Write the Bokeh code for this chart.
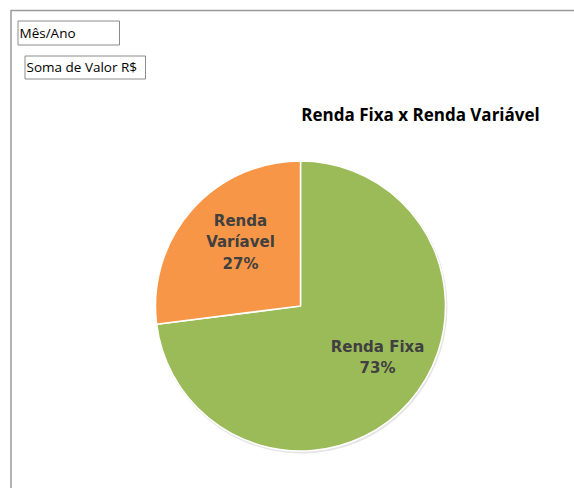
import numpy as np
from bokeh.plotting import figure
from bokeh.models import ColumnDataSource
from bokeh.core.properties import value
from bokeh.embed import file_html
from bokeh.resources import INLINE

# Data
categories = ["Renda Fixa", "Renda Variável"]
shares = [73, 27]
label_lines = [["Renda Fixa", "73%"], ["Renda", "Varíavel", "27%"]]
colors = ["#9BBB59", "#F79646"]
title_text = "Renda Fixa x Renda Variável"
filter_fields = ["Mês/Ano", "Soma de Valor R$"]

W, H = 574, 488
p = figure(width=W, height=H, x_range=(0, W), y_range=(0, H),
           output_backend="svg", toolbar_location=None,
           min_border=0, outline_line_color=None)
p.axis.visible = False
p.grid.visible = False
p.background_fill_color = "white"
p.border_fill_color = "white"

def Y(y):
    return H - y

# page frame (top and left lines)
p.segment(x0=[10, 10.5], y0=[Y(10), Y(10)], x1=[W + 5, 10.5], y1=[Y(10), -5],
          line_color="#9A9A9A", line_width=1.5)

# filter field buttons
boxes = [(17.5, 20.5, 119, 44.5), (24.5, 55.5, 145, 78.5)]
for (x0, y0, x1, y1), t in zip(boxes, filter_fields):
    p.quad(left=x0, right=x1, top=Y(y0), bottom=Y(y1),
           fill_color="white", line_color="#8C8C8C", line_width=1)
    p.text(x=[x0 + 1.5], y=[(Y(y0) + Y(y1)) / 2 + 0.5], text=[t],
           text_font=value("Open Sans"), text_font_size="13.5px",
           text_color="#000000", text_baseline="middle", text_align="left")

# title
p.text(x=[420], y=[Y(114)], text=[title_text], text_font=value("Open Sans"),
       text_font_style="bold", text_font_size="17px", text_color="#000000",
       text_align="center", text_baseline="middle")

# pie
cx, cy, r = 300, Y(305.5), 145
frac = np.array(shares, dtype=float) / sum(shares)
cum = np.concatenate([[0], np.cumsum(frac)])
start = np.pi / 2 - 2 * np.pi * cum[1:]
end = np.pi / 2 - 2 * np.pi * cum[:-1]
src = ColumnDataSource(dict(start=start, end=end, color=colors, cat=categories))

# soft shadow
p.wedge(x=cx + 1, y=cy - 1.5, radius=r + 1, start_angle=0, end_angle=2 * np.pi,
        fill_color="#000000", fill_alpha=0.10, line_color=None)
p.wedge(x=cx, y=cy, radius=r, start_angle="start", end_angle="end",
        fill_color="color", line_color="white", line_width=1.5, source=src)

# labels
lab_pos = [(377, [346, 367]), (240, [220, 241, 263])]
for (lx, ys), lines in zip(lab_pos, label_lines):
    p.text(x=[lx] * len(lines), y=[Y(v) for v in ys], text=lines,
           text_font=value("DejaVu Sans"), text_font_style="bold",
           text_font_size="15px", text_color="#404040",
           text_align="center", text_baseline="middle")

open("out.html", "w").write(file_html(p, INLINE))
